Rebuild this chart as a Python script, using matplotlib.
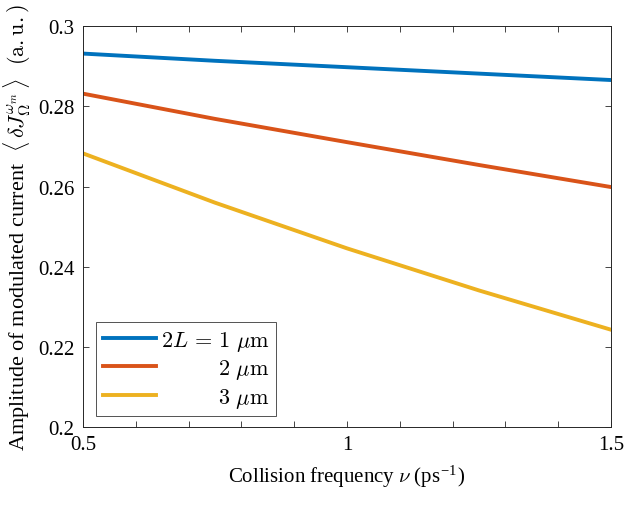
import numpy as np
import matplotlib
matplotlib.use("Agg")
import matplotlib.pyplot as plt

plt.rcParams['font.family'] = ['Liberation Serif', 'DejaVu Serif']
plt.rcParams['mathtext.fontset'] = 'cm'

# collision frequency (ps^-1) and amplitude for each 2L
nu = [0.5, 0.75, 1.0, 1.25, 1.5]
amp_1um = [0.2932, 0.2914, 0.2898, 0.2882, 0.2866]
amp_2um = [0.2832, 0.2769, 0.2711, 0.2654, 0.2599]
amp_3um = [0.2683, 0.2560, 0.2446, 0.2341, 0.2243]
labels = [r'$2L\,=\,1\ \mu\mathrm{m}$',
          r'$\hspace{2.93}2\ \mu\mathrm{m}$',
          r'$\hspace{2.93}3\ \mu\mathrm{m}$']
colors = ['#0072BD', '#D95319', '#EDB120']

fig = plt.figure(figsize=(6.24, 5.06), dpi=100)
ax = fig.add_axes([0.133, 0.154, 0.846, 0.792])

for y, lab, c in zip([amp_1um, amp_2um, amp_3um], labels, colors):
    ax.plot(nu, y, color=c, lw=2.8, label=lab)

ax.set_xlim(0.5, 1.5)
ax.set_ylim(0.2, 0.3)
ax.set_xticks([0.5, 1, 1.5])
ax.set_xticklabels(['0.5', '1', '1.5'])
ax.set_xticks(np.arange(0.5, 1.51, 0.1), minor=True)
ax.set_yticks([0.2, 0.22, 0.24, 0.26, 0.28, 0.3])
ax.set_yticklabels(['0.2', '0.22', '0.24', '0.26', '0.28', '0.3'])
ax.tick_params(which='both', direction='in', top=True, right=True,
               length=4, width=0.6, color='#262626', labelsize=15, pad=6)

for s in ax.spines.values():
    s.set_color('#262626')
    s.set_linewidth(0.7)

ax.set_xlabel(r'Collision frequency $\nu$ (ps$^{\mathregular{-1}}$)', fontsize=15, labelpad=6)
ax.set_ylabel(r'Amplitude of modulated current $\ \langle\,\delta J_{\Omega}^{\omega_m}\,\rangle\ \ \mathrm{(a.u.)}$',
              fontsize=16, labelpad=4)

leg = ax.legend(loc='lower left', fontsize=16, frameon=True, fancybox=False,
                edgecolor='#262626', handlelength=2.4, borderaxespad=0.0,
                labelspacing=0.2, handletextpad=0.2, borderpad=0.3,
                bbox_to_anchor=(0.025, 0.027))
leg.get_frame().set_linewidth(0.7)

fig.savefig('out.png', dpi=100)
